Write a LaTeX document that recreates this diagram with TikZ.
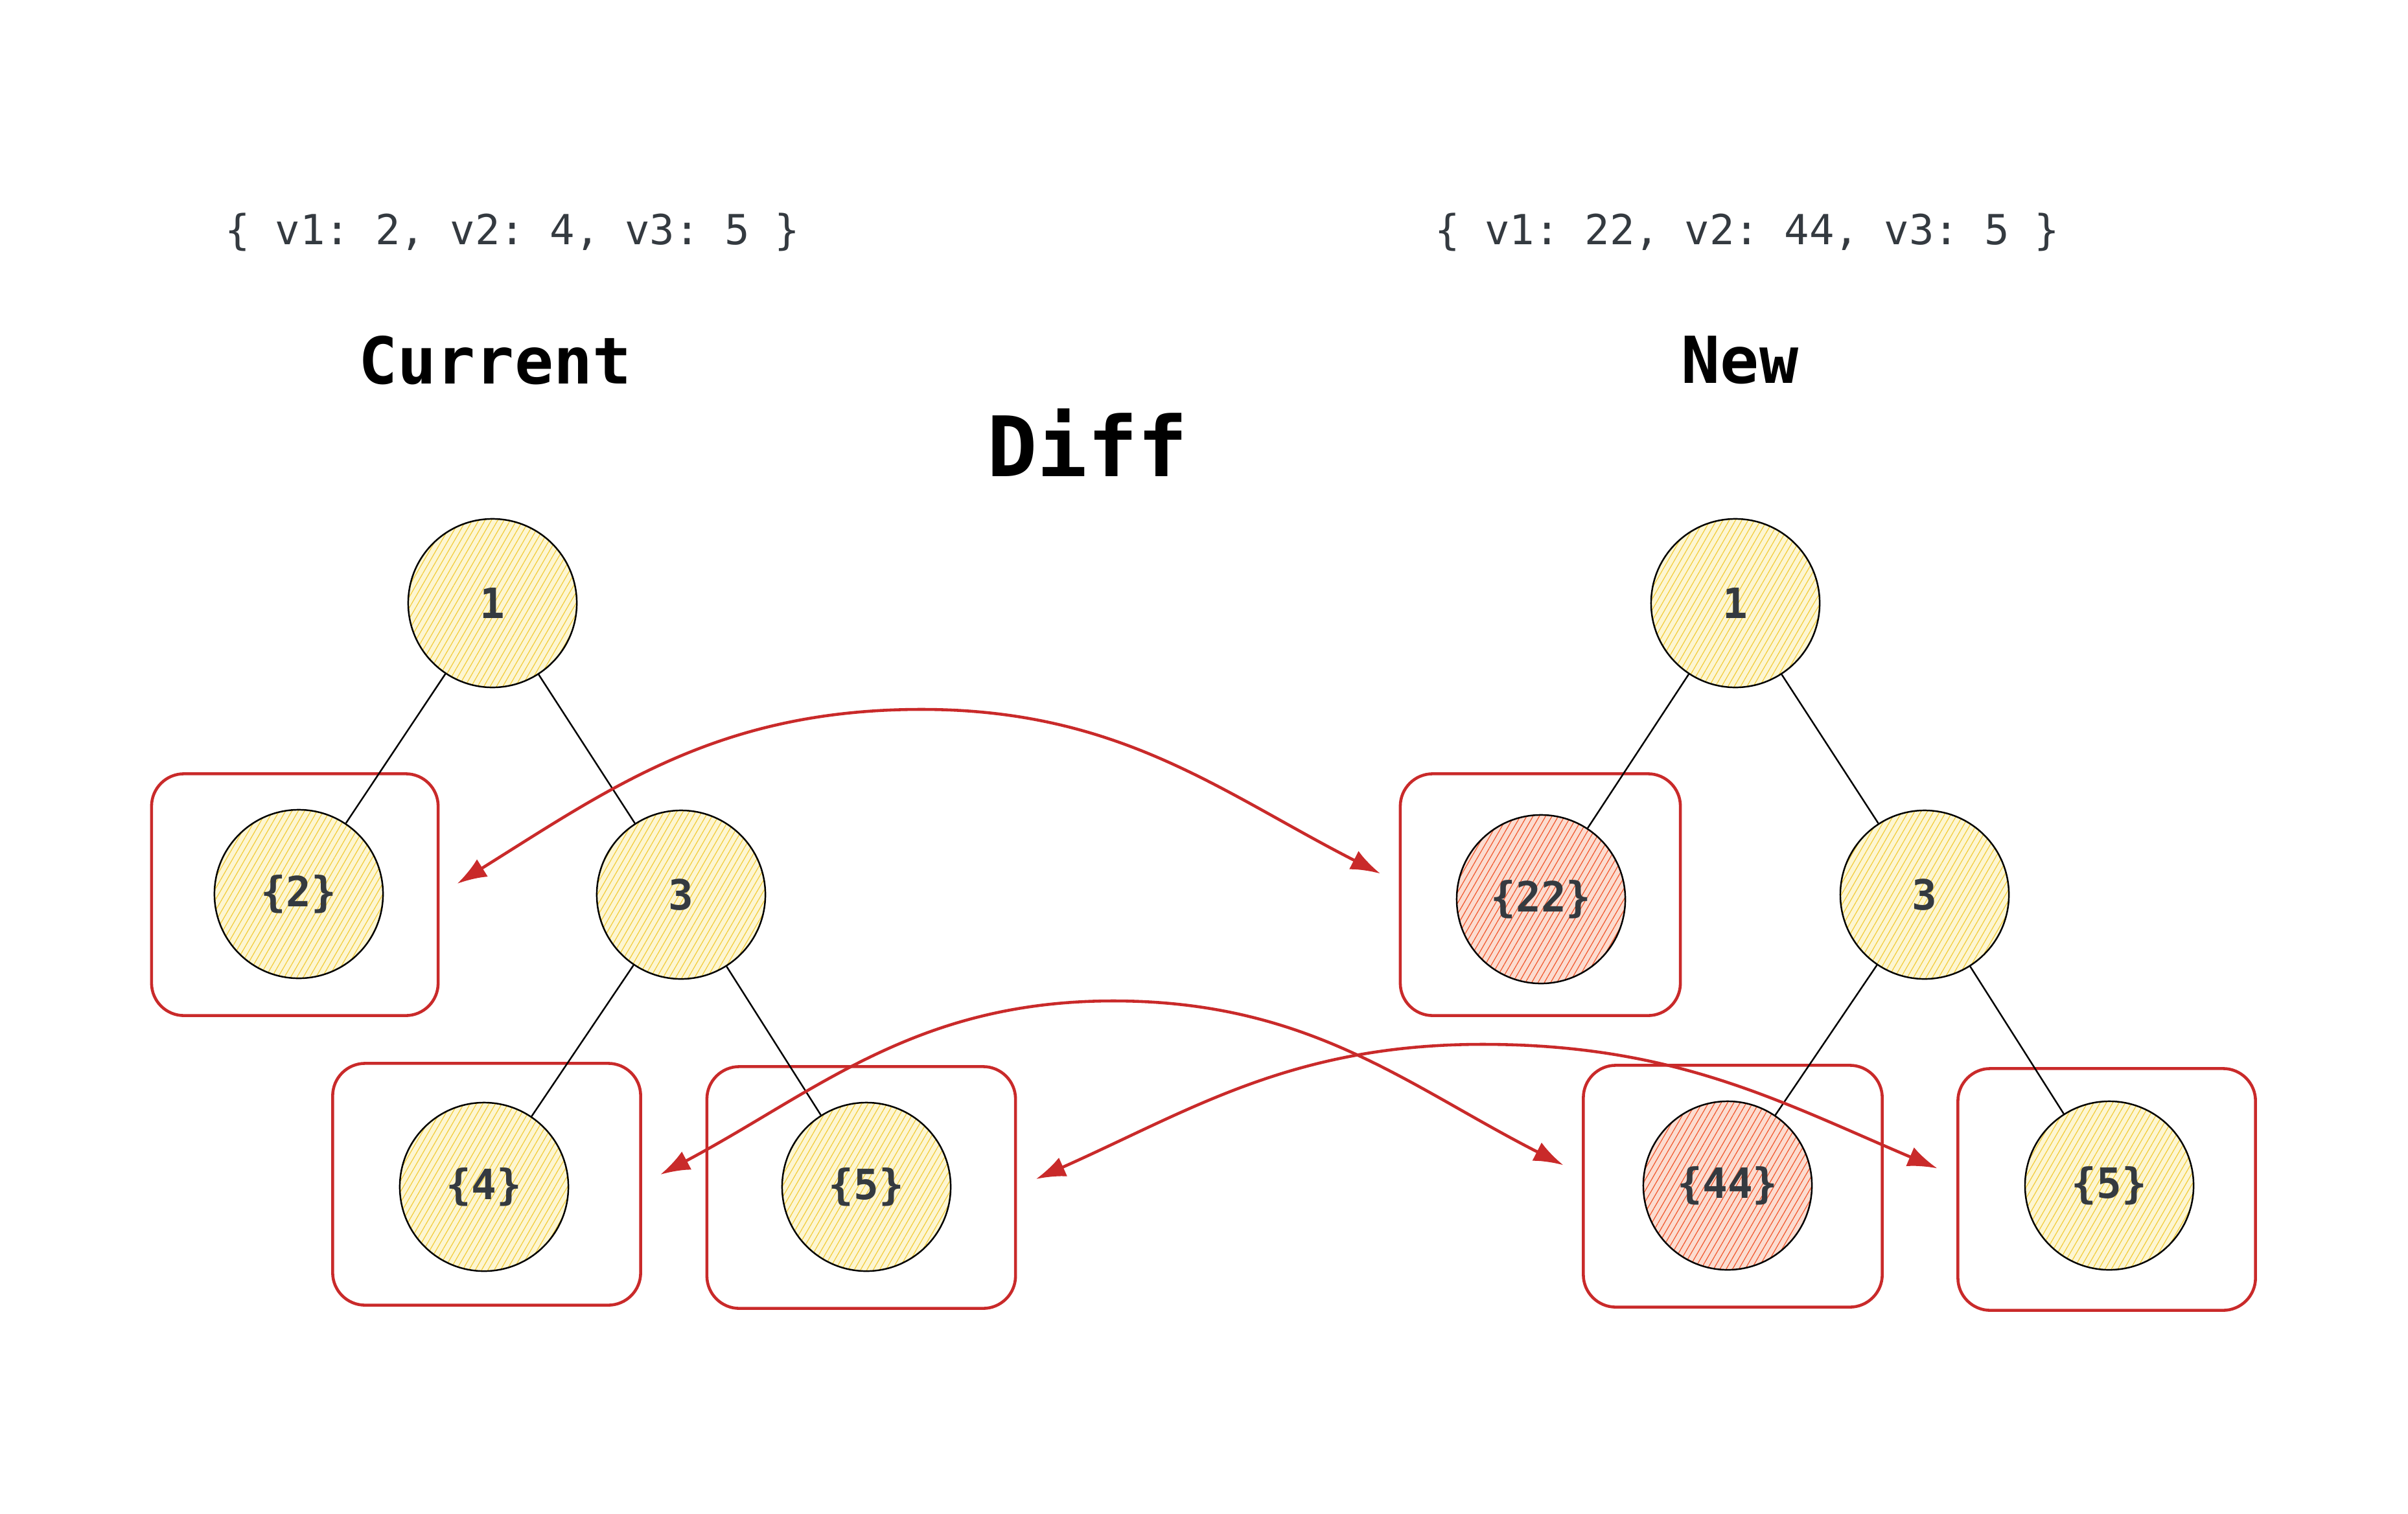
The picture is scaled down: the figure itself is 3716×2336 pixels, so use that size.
\documentclass[tikz,border=0pt]{standalone}
\usepackage{fontspec}
\setmonofont{DejaVu Sans Mono}
\usetikzlibrary{patterns.meta,arrows.meta}

\definecolor{boxred}{HTML}{C92A2A}
\definecolor{labelgray}{HTML}{343A40}
\definecolor{nodeyellow}{HTML}{FDF6D2}
\definecolor{hatchyellow}{HTML}{F2CC3C}
\definecolor{nodered}{HTML}{FCDCD0}
\definecolor{hatchred}{HTML}{F0592E}

\begin{document}
\begin{tikzpicture}[
  x=0.01cm, y=0.01cm,
  % tree nodes
  treenode/.style={circle, draw=black, line width=0.7pt, minimum size=2.6cm,
    inner sep=0pt, text=labelgray, font=\fontsize{18.3}{22}\selectfont\ttfamily\bfseries,
    preaction={fill=nodeyellow},
    pattern={Lines[angle=60,distance=2.4pt,line width=0.35pt]},
    pattern color=hatchyellow},
  changed/.style={preaction={fill=nodered}, pattern color=hatchred},
  edge/.style={draw=black, line width=0.7pt},
  groupbox/.style={draw=boxred, line width=1.3pt, rounded corners=0.5cm,
    minimum height=3.73cm},
  diffarrow/.style={draw=boxred, line width=1.3pt,
    {Latex[length=13pt,width=9pt]}-{Latex[length=13pt,width=9pt]},
    shorten <=0.32cm, shorten >=0.32cm},
  state/.style={text=labelgray, font=\fontsize{18.2}{22}\selectfont\ttfamily},
  title/.style={text=black, font=\fontsize{28.4}{34}\selectfont\ttfamily\bfseries},
  ]
  \useasboundingbox (0,0) rectangle (3716,-2336);

  \node[state] (curState) at (791,-358) {\{ v1: 2, v2: 4, v3: 5 \}};
  \node[state] (newState) at (2696,-358) {\{ v1: 22, v2: 44, v3: 5 \}};

  \node[title] (curTitle) at (764,-556) {Current};
  \node[title] (newTitle) at (2685,-556) {New};
  \node[title, font=\fontsize{36.6}{44}\selectfont\ttfamily\bfseries] (diffTitle) at (1678,-683) {Diff};

  % current tree
  \node[groupbox, minimum width=4.42cm] (curBox2) at (455,-1381) {};
  \node[groupbox, minimum width=4.75cm] (curBox4) at (751,-1828) {};
  \node[groupbox, minimum width=4.76cm] (curBox5) at (1329,-1833) {};

  \node[treenode] (cur1) at (760,-931) {1};
  \node[treenode] (curV2) at (461,-1380) {\{2\}};
  \node[treenode] (cur3) at (1051,-1381) {3};
  \node[treenode] (curV4) at (747,-1832) {\{4\}};
  \node[treenode] (curV5) at (1337,-1832) {\{5\}};

  \draw[edge] (cur1) -- (curV2);
  \draw[edge] (cur1) -- (cur3);
  \draw[edge] (cur3) -- (curV4);
  \draw[edge] (cur3) -- (curV5);

  % new tree
  \node[groupbox, minimum width=4.32cm] (newBox22) at (2377,-1381) {};
  \node[groupbox, minimum width=4.61cm] (newBox44) at (2674,-1831) {};
  \node[groupbox, minimum width=4.59cm] (newBox5) at (3251,-1836) {};

  \node[treenode] (new1) at (2678,-931) {1};
  \node[treenode, changed] (newV22) at (2378,-1388) {\{22\}};
  \node[treenode] (new3) at (2970,-1381) {3};
  \node[treenode, changed] (newV44) at (2666,-1830) {\{44\}};
  \node[treenode] (newV5) at (3255,-1830) {\{5\}};

  \draw[edge] (new1) -- (newV22);
  \draw[edge] (new1) -- (new3);
  \draw[edge] (new3) -- (newV44);
  \draw[edge] (new3) -- (newV5);

  % diff
  \draw[diffarrow] (curBox2.east) to[out=32,in=180] (1422,-1095) to[out=0,in=153] ([yshift=0.18cm]newBox22.west);
  \draw[diffarrow] (curBox4.east) to[out=28,in=180] (1718,-1545) to[out=0,in=153] ([yshift=0.18cm]newBox44.west);
  \draw[diffarrow] (curBox5.east) to[out=24,in=180] (2288,-1612) to[out=0,in=157] ([yshift=0.2cm]newBox5.west);

\end{tikzpicture}
\end{document}
